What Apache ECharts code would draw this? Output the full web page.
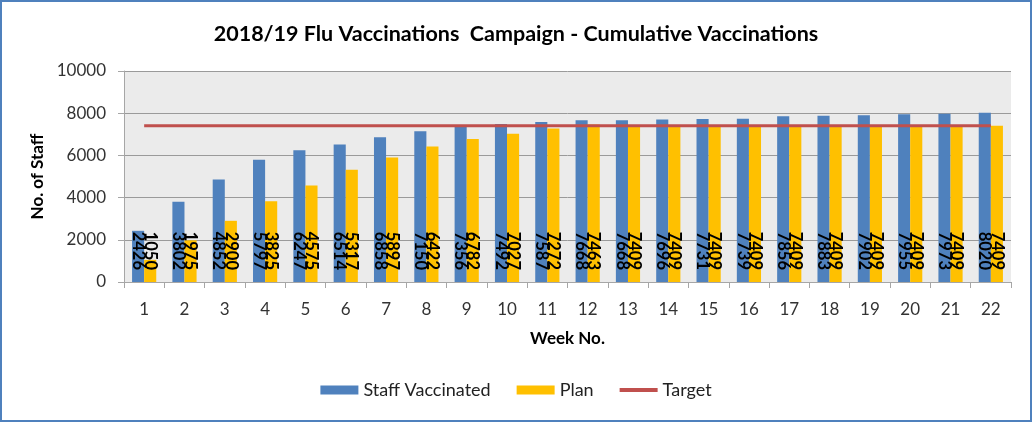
<!DOCTYPE html>
<html><head><meta charset="utf-8">
<script src="https://cdn.jsdelivr.net/npm/echarts@6/dist/echarts.min.js"></script>
<style>html,body{margin:0;padding:0;background:#fff}#c{width:1032px;height:422px;box-sizing:border-box;border:2px solid #4F81BD}</style>
</head><body><div id="c"></div>
<script>
const weeks = ['1','2','3','4','5','6','7','8','9','10','11','12','13','14','15','16','17','18','19','20','21','22'];
const staffVaccinated = [2426,3802,4852,5797,6247,6514,6858,7150,7356,7492,7587,7668,7668,7696,7731,7739,7856,7883,7902,7955,7973,8020];
const plan = [1050,1975,2900,3825,4575,5317,5897,6422,6782,7027,7272,7463,7409,7409,7409,7409,7409,7409,7409,7409,7409,7409];
const target = [7409,7409,7409,7409,7409,7409,7409,7409,7409,7409,7409,7409,7409,7409,7409,7409,7409,7409,7409,7409,7409,7409];
const yTicks = [0,2000,4000,6000,8000,10000];

const FONT = 'Lato, "Open Sans", sans-serif';
const chart = echarts.init(document.getElementById('c'), null, {renderer:'canvas'});
const lbl = {
  show: true, position: 'insideBottom', rotate: -90, align: 'right', verticalAlign: 'middle',
  distance: 12, color: '#000', fontSize: 16.5, fontWeight: 'bold', fontFamily: FONT
};
chart.setOption({
  animation: false,
  title: {
    text: '2018/19 Flu Vaccinations  Campaign - Cumulative Vaccinations',
    left: 'center', top: 16,
    textStyle: {fontFamily: FONT, fontSize: 21.5, fontWeight: 'bold', color: '#000'}
  },
  legend: {
    bottom: 16, left: 'center', itemWidth: 38, itemHeight: 9, itemGap: 26,
    textStyle: {fontFamily: FONT, fontSize: 18, color: '#222'},
    data: [
      {name: 'Staff Vaccinated', icon: 'rect'},
      {name: 'Plan', icon: 'rect'},
      {name: 'Target', icon: 'path://M0,0 L10,0 L10,1 L0,1 Z'}
    ]
  },
  grid: {left: 122, right: 19, top: 69, bottom: 138, show: true, backgroundColor: '#EBEBEB', borderWidth: 0},
  xAxis: {
    type: 'category', data: weeks, boundaryGap: true,
    name: 'Week No.', nameLocation: 'middle', nameGap: 48,
    nameTextStyle: {fontFamily: FONT, fontSize: 17, fontWeight: 'bold', color: '#000'},
    axisLine: {lineStyle: {color: '#A6A6A6'}},
    axisTick: {show: true, length: 6, alignWithLabel: false, lineStyle: {color: '#A6A6A6'}},
    axisLabel: {fontFamily: FONT, fontSize: 17, color: '#333', margin: 19},
    splitLine: {show: false}
  },
  yAxis: {
    type: 'value', min: 0, max: 10000, interval: 2000,
    name: 'No. of Staff', nameLocation: 'middle', nameGap: 74, nameRotate: 90,
    nameTextStyle: {fontFamily: FONT, fontSize: 17, fontWeight: 'bold', color: '#000'},
    axisLine: {show: true, lineStyle: {color: '#A6A6A6'}},
    axisTick: {show: true, length: 6, lineStyle: {color: '#A6A6A6'}},
    axisLabel: {fontFamily: FONT, fontSize: 17, color: '#333', margin: 18,
      formatter: v => yTicks.includes(v) ? String(v) : ''},
    splitLine: {show: true, lineStyle: {color: '#9A9A9A', width: 1}}
  },
  series: [
    {name: 'Staff Vaccinated', type: 'bar', data: staffVaccinated, barGap: '0%', barCategoryGap: '40%',
     itemStyle: {color: '#4F81BD'}, label: lbl, z: 2},
    {name: 'Plan', type: 'bar', data: plan,
     itemStyle: {color: '#FFC000'}, label: lbl, z: 2},
    {name: 'Target', type: 'line', data: target, symbol: 'none',
     lineStyle: {color: '#C0504D', width: 3}, itemStyle: {color: '#C0504D'}, z: 5}
  ]
});
</script></body></html>
